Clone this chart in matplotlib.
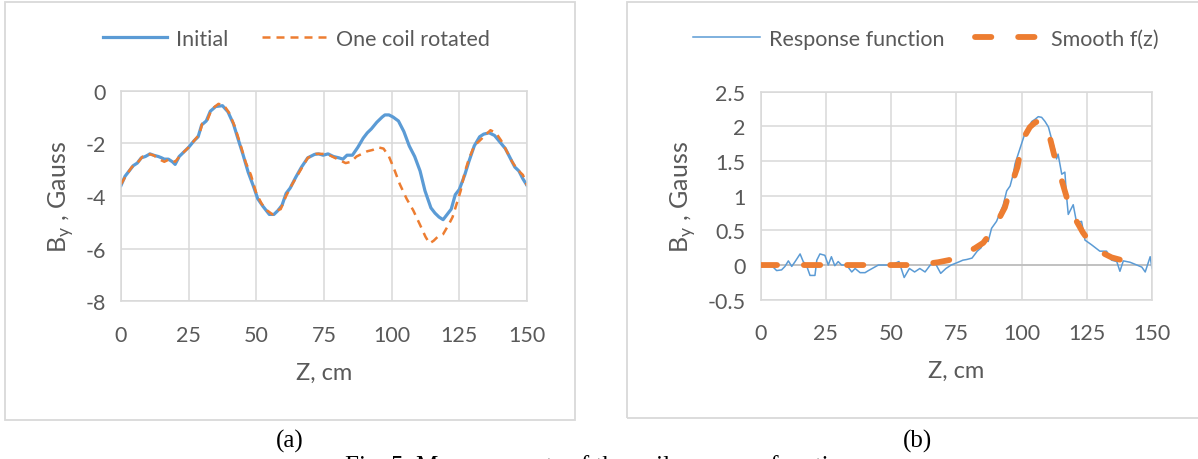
import numpy as np
import matplotlib
matplotlib.use("Agg")
import matplotlib.pyplot as plt
from matplotlib.patches import Rectangle

# --- (a) initial field vs field with one coil rotated ---
z_init = [0, 1.5, 3, 4.5, 6, 7.5, 9, 10.7, 12, 13.8, 15, 16, 17.5, 19, 20, 21.5, 23, 25,
          27, 28.5, 29.8, 31.5, 33, 35, 37.5, 39.5, 41.5, 43.3, 45, 47, 49, 50.5, 52.5,
          54.8, 56.5, 58, 59.5, 61, 62.5, 64.5, 66.7, 69, 71.5, 73, 74.7, 76.5, 78.5,
          80.5, 82, 83.5, 85.5, 87.5, 89.5, 91, 92.5, 94.5, 96.5, 97.5, 99, 100.5,
          102.5, 104.5, 106.5, 108.5, 110.5, 112.3, 114.5, 116, 117.5, 119, 120.5, 122,
          123.5, 125, 127, 128.5, 130.5, 132.5, 134, 136, 138, 140, 142, 144, 145.5,
          147, 148.5, 150]
by_init = [-3.6, -3.25, -3.05, -2.85, -2.75, -2.55, -2.5, -2.4, -2.45, -2.5, -2.55, -2.6,
           -2.6, -2.7, -2.8, -2.5, -2.35, -2.15, -1.9, -1.75, -1.3, -1.15, -0.78, -0.6,
           -0.57, -0.8, -1.25, -1.85, -2.4, -3.1, -3.65, -4.1, -4.4, -4.7, -4.7, -4.55,
           -4.35, -3.9, -3.7, -3.3, -2.9, -2.55, -2.42, -2.4, -2.45, -2.4, -2.5, -2.55,
           -2.6, -2.45, -2.45, -2.15, -1.8, -1.6, -1.45, -1.2, -1.0, -0.92, -0.92, -1.0,
           -1.15, -1.55, -2.1, -2.5, -3.05, -3.8, -4.45, -4.65, -4.8, -4.9, -4.7, -4.5,
           -3.95, -3.75, -3.2, -2.7, -2.1, -1.75, -1.65, -1.6, -1.7, -1.95, -2.2, -2.6,
           -2.9, -3.05, -3.35, -3.6]

z_rot = [0, 2, 4, 6, 8, 10, 12, 14, 16, 18, 20, 22, 25, 27, 29, 30, 32, 33.5, 36, 38, 40,
         42, 44, 46, 48, 50, 52, 54, 56, 57.5, 59, 61, 63, 65, 67, 69, 72, 75, 77, 79, 81,
         83, 85, 87, 89, 91, 93, 95, 97, 99, 101, 103, 105.5, 108, 110.5, 112.5, 114,
         115.5, 117, 119, 121, 122.5, 124, 125.5, 127, 128.5, 130.5, 132.5, 134.5, 136.5,
         138.5, 140.5, 142.5, 144.5, 146.5, 148.5, 150]
by_rot = [-3.55, -3.2, -2.9, -2.75, -2.5, -2.4, -2.45, -2.6, -2.7, -2.6, -2.7, -2.45,
          -2.15, -1.9, -1.65, -1.25, -1.1, -0.7, -0.5, -0.55, -0.85, -1.35, -2.0, -2.7,
          -3.2, -3.9, -4.3, -4.55, -4.7, -4.55, -4.5, -4.0, -3.6, -3.25, -2.9, -2.55,
          -2.4, -2.4, -2.45, -2.55, -2.65, -2.75, -2.7, -2.5, -2.4, -2.3, -2.25, -2.15,
          -2.2, -2.5, -3.0, -3.55, -4.1, -4.55, -5.1, -5.55, -5.8, -5.7, -5.55, -5.45,
          -5.1, -4.8, -4.3, -3.8, -3.1, -2.6, -2.1, -1.9, -1.7, -1.5, -1.6, -1.9, -2.3,
          -2.7, -3.0, -3.2, -3.6]

# --- (b) measured response function and its smoothed version ---
z_resp = [0, 4, 6.1, 8, 9.3, 10.6, 11.9, 13.2, 15.1, 16.3, 17.5, 18.9, 20.8, 21.5, 22.7,
          24.6, 25.9, 27.1, 28.4, 29.7, 31, 32.9, 34.9, 36.2, 38.1, 40, 41.3, 43.2, 45.1,
          47, 50, 53, 55, 57, 59, 61, 63, 65, 67, 69, 71, 73, 75, 76.3, 77.5, 79, 81,
          83, 84.5, 86, 87.2, 88.5, 90.4, 93, 94.3, 95.6, 96.8, 97.5, 98.7, 100, 101.3,
          102.5, 103.9, 105.1, 106.4, 107.7, 109, 110.3, 111.5, 112.8, 113.4, 114, 115.4,
          116.6, 117.3, 117.9, 119.8, 121.1, 123, 124.3, 126.9, 130, 132.6, 134.5, 136.5,
          137.7, 139, 141.6, 144.2, 146.1, 147.4, 149.3, 150]
by_resp = [0, 0.0, -0.08, -0.07, -0.02, 0.06, -0.02, 0.05, 0.16, 0.05, 0.0, -0.15, -0.15,
           0.07, 0.16, 0.14, 0.0, 0.12, -0.01, 0.05, 0.0, 0.0, -0.1, -0.05, -0.11, -0.11,
           -0.08, -0.04, 0.0, 0.0, 0.0, 0.05, -0.18, -0.05, -0.1, -0.05, -0.1, 0.0, 0.02,
           -0.12, -0.05, 0.0, 0.03, 0.05, 0.07, 0.08, 0.1, 0.2, 0.25, 0.39, 0.34, 0.53,
           0.63, 0.87, 1.07, 1.14, 1.31, 1.46, 1.6, 1.75, 1.9, 1.97, 2.07, 2.1, 2.14, 2.13,
           2.07, 1.99, 1.82, 1.65, 1.53, 1.6, 1.31, 1.34, 0.97, 0.73, 0.87, 0.61, 0.63,
           0.36, 0.29, 0.2, 0.2, 0.07, 0.05, -0.09, 0.06, 0.04, 0.0, -0.03, -0.1, 0.12,
           -0.05]

z_smooth = [0, 10, 20, 30, 40, 50, 60, 64, 68, 72, 75, 78.3, 82, 85.3, 87.5, 89.8, 91.5,
            93.6, 96.2, 98.4, 100, 101.5, 103.2, 105, 106.5, 108.3, 109.8, 111.1, 113.2,
            115.4, 117.9, 121.1, 123.5, 125.6, 128, 131.3, 134.5, 138.4, 142, 145.4]
by_smooth = [0, 0, 0, 0, 0, 0, 0, 0.02, 0.04, 0.07, 0.1, 0.17, 0.24, 0.32, 0.43, 0.56,
             0.68, 0.83, 1.17, 1.41, 1.73, 1.88, 1.99, 2.05, 2.08, 2.07, 1.96, 1.8, 1.48,
             1.22, 0.9, 0.63, 0.47, 0.36, 0.27, 0.17, 0.11, 0.07, 0.05, 0.02]

blue = '#5B9BD5'
orange = '#ED7D31'
grid_c = '#D9D9D9'
txt_c = '#595959'
tick_font = 'Lato'

W, H = 1198, 460
fig = plt.figure(figsize=(W / 100, H / 100), dpi=100)

# chart frames
fig.patches.append(Rectangle((5 / W, 1 - 421 / H), 570 / W, 418 / H, transform=fig.transFigure,
                             fill=False, edgecolor=grid_c, linewidth=1.3))
fig.patches.append(Rectangle((627 / W, 1 - 419 / H), 600 / W, 416 / H, transform=fig.transFigure,
                             fill=False, edgecolor=grid_c, linewidth=1.3))


def style_axes(ax, yticks, ylabels):
    ax.set_xlim(0, 150)
    ax.set_xticks([0, 25, 50, 75, 100, 125, 150])
    ax.set_yticks(yticks)
    ax.set_yticklabels(ylabels)
    ax.grid(True, color=grid_c, linewidth=1.1)
    ax.set_axisbelow(True)
    for s in ax.spines.values():
        s.set_color(grid_c)
        s.set_linewidth(1.1)
    ax.tick_params(length=0, labelsize=15.5, colors=txt_c, pad=11)
    ax.tick_params(axis='x', pad=17)
    for lab in ax.get_xticklabels() + ax.get_yticklabels():
        lab.set_family(tick_font)
    ax.set_xlabel('Z, cm', fontsize=17, color=txt_c, family=tick_font, labelpad=12)
    ax.set_ylabel(r'B$_\mathregular{y}$ , Gauss', fontsize=18, color=txt_c,
                  family=tick_font, labelpad=7)


# (a)
ax1 = fig.add_axes([121 / W, 1 - 302.3 / H, 406 / W, 210.6 / H])
ax1.plot(z_init, by_init, color=blue, linewidth=2.3, label='Initial')
ax1.plot(z_rot, by_rot, color=orange, linewidth=1.8, dashes=(3.2, 2.4), label='One coil rotated')
ax1.set_ylim(-8, 0)
style_axes(ax1, [-8, -6, -4, -2, 0], ['-8', '-6', '-4', '-2', '0'])
ax1.legend(loc='center', bbox_to_anchor=(296 / W, 1 - 40 / H), bbox_transform=fig.transFigure,
           ncol=2, frameon=False, handlelength=3.0, handletextpad=0.4, columnspacing=1.6,
           prop={'family': tick_font, 'size': 15.5}, labelcolor=txt_c)

# (b)
ax2 = fig.add_axes([760.7 / W, 1 - 300.7 / H, 391.3 / W, 208 / H])
ax2.axhline(0, color='#BFBFBF', linewidth=1.3, zorder=1)
ax2.plot(z_resp, by_resp, color=blue, linewidth=1.1, label='Response function', zorder=2)
ax2.plot(z_smooth, by_smooth, color=orange, linewidth=4.2, dashes=(2.8, 4.6),
         dash_capstyle='round', label='Smooth f(z)', zorder=3)
ax2.set_ylim(-0.5, 2.5)
style_axes(ax2, [-0.5, 0, 0.5, 1, 1.5, 2, 2.5], ['-0.5', '0', '0.5', '1', '1.5', '2', '2.5'])
ax2.legend(loc='center', bbox_to_anchor=(926 / W, 1 - 40 / H), bbox_transform=fig.transFigure,
           ncol=2, frameon=False, handlelength=3.1, handletextpad=0.45, columnspacing=1.4,
           prop={'family': tick_font, 'size': 15.5}, labelcolor=txt_c)

# sub-figure captions
fig.text(290 / W, 1 - 441 / H, '(a)', ha='center', va='center', fontsize=18,
         family='Liberation Serif', color='black')
fig.text(917 / W, 1 - 441 / H, '(b)', ha='center', va='center', fontsize=18,
         family='Liberation Serif', color='black')
fig.text(0.5, 1 - 467 / H, 'Fig. 5. Measurements of the coil response function', ha='center',
         va='center', fontsize=18, family='Liberation Serif', color='black')

fig.savefig('out.png', dpi=100)
